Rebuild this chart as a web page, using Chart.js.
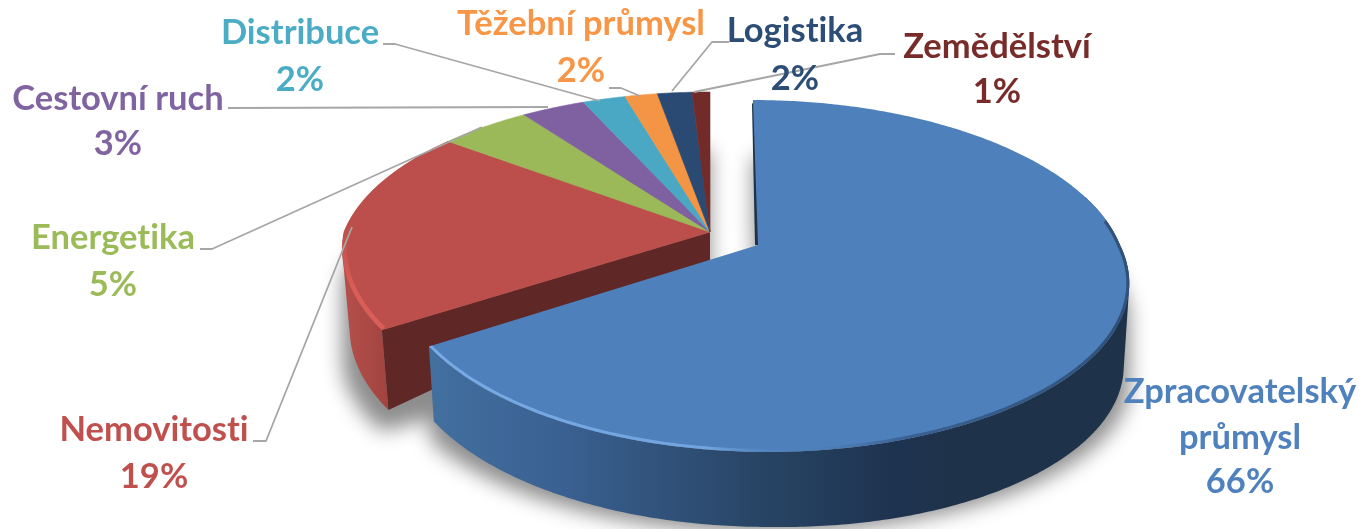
<!DOCTYPE html>
<html><head><meta charset="utf-8">
<style>html,body{margin:0;padding:0;background:#fff}#w{width:1359px;height:529px;position:relative}</style>
<script src="https://cdn.jsdelivr.net/npm/chart.js@4/dist/chart.umd.min.js"></script>
</head><body><div id="w"><canvas id="c"></canvas></div>
<script>
const categories = ["Zpracovatelský průmysl","Nemovitosti","Energetika","Cestovní ruch","Distribuce","Těžební průmysl","Logistika","Zemědělství"];
/* slice sizes; they print rounded as whole percents */
const shares = [65.95,19.49,4.69,3.29,2.2,1.68,1.78,0.92];
const sliceColors = ["#4e80bb","#bc4f4b","#9bb958","#7f60a0","#4aa8c4","#f39545","#2a4a74","#722b29"];
const textColors = ["#4f81bd","#c0504d","#9bbb59","#8064a2","#4bacc6","#f79646","#2c4d75","#772c2a"];

/* layout of the perspective drawing */
const K = 0.176;
const BLUE = {ax:758, ay:245, R:362, b:170.5, s:10, t:5, D:75, kx:.985, dr:8};
const RED  = {ax:710, ay:232, R:366, b:164.6, s:16, t:0, D:80, kx:.98, dr:0};
const labelLayout = [
  {x:1240, lines:["Zpracovatelský","průmysl"], y:[403,449,493]},
  {x:154, lines:["Nemovitosti"], y:[441,488]},
  {x:113, lines:["Energetika"], y:[249,296]},
  {x:118, lines:["Cestovní ruch"], y:[110,155]},
  {x:300, lines:["Distribuce"], y:[44,91]},
  {x:581, lines:["Těžební průmysl"], y:[35,82]},
  {x:795, lines:["Logistika"], y:[42,90]},
  {x:997, lines:["Zemědělství"], y:[58,103]}
];
const leaders = [
  [[228,108],[548,107]],
  [[383,44],[395,44],[600,101]],
  [[609,88],[621,88],[640,96]],
  [[729,42],[712,42],[672,91]],
  [[895,54],[880,54],[694,92]],
  [[200,249],[212,249],[482,127]],
  [[253,441],[266,441],[352,227]]
];

function rimTop(g,th){const X=Math.cos(th),Y=Math.sin(th),w=1-K*Y;
  const sh=Y>=0?g.s*Y*(2-Y):g.t*Y;
  return [g.ax+g.R*X/w+sh, g.ay+g.b*Y/w];}
function rimBot(g,th){const p=rimTop(g,th);return [g.ax+(p[0]-g.ax)*g.kx,p[1]+g.D+g.dr*Math.max(Math.cos(th),0)];}
function arcPts(f,g,a,b){const n=Math.max(4,Math.ceil(Math.abs(b-a)*90)),o=[];
  for(let i=0;i<=n;i++)o.push(f(g,a+(b-a)*i/n));return o;}
function poly(ctx,pts){pts.forEach((p,i)=>i?ctx.lineTo(p[0],p[1]):ctx.moveTo(p[0],p[1]));ctx.closePath();}
function wallPath(ctx,g,a,b){
  const t=arcPts(rimTop,g,a,b), u=arcPts(rimBot,g,a,b);
  for(let i=0;i<t.length-1;i++){
    let q=[t[i],t[i+1],u[i+1],u[i]], area=0;
    q.forEach((p,j)=>{const n=q[(j+1)%4];area+=p[0]*n[1]-n[0]*p[1];});
    if(area<0)q=q.reverse();
    poly(ctx,q);
  }
}

const pie3d = {
  id:'pie3d',
  beforeDatasetsDraw(chart){
    const ctx=chart.ctx, arcs=chart.getDatasetMeta(0).data;
    const redStart=arcs[1].startAngle, redEnd=arcs[arcs.length-1].endAngle;
    const blueA=arcs[0].startAngle, blueB=arcs[0].endAngle;
    ctx.save();
    /* soft drop shadow */
    ctx.save();
    const far=4000, sq=y=>150+(y-92)*0.885;
    ctx.shadowColor='rgba(0,0,0,.45)';ctx.shadowBlur=20;ctx.shadowOffsetX=far;ctx.shadowOffsetY=0;
    ctx.fillStyle='#000';ctx.beginPath();
    [[BLUE,blueA,blueB],[RED,redStart,redEnd]].forEach(([g,a,b])=>{
      const pts=[[g.ax,g.ay]].concat(arcPts(rimTop,g,a,b));
      for(let d=0;d<=g.D;d+=4){
        poly(ctx,pts.map(p=>[p[0]-far,sq(p[1]+d)]));
      }
    });
    ctx.fill();
    ctx.restore();

    /* red group: rim wall and cut face */
    let gr=ctx.createLinearGradient(345,0,400,0);
    gr.addColorStop(0,'#b54f4b');gr.addColorStop(1,'#9c403c');
    ctx.fillStyle=gr;ctx.beginPath();
    wallPath(ctx,RED,arcs[1].startAngle,arcs[1].endAngle);
    ctx.fill();
    ctx.fillStyle='#5f2725';ctx.beginPath();
    poly(ctx,[[RED.ax,RED.ay],[RED.ax,RED.ay+28],rimBot(RED,redStart),rimTop(RED,redStart)]);
    ctx.fill();

    /* red group: top faces */
    for(let i=1;i<arcs.length;i++){
      const a=arcs[i];
      const pts=[[RED.ax,RED.ay]].concat(arcPts(rimTop,RED,a.startAngle,a.endAngle));
      ctx.beginPath();poly(ctx,pts);
      ctx.fillStyle=a.options.backgroundColor;ctx.fill();
      ctx.strokeStyle=a.options.backgroundColor;ctx.lineWidth=.6;ctx.stroke();
    }
    /* red bevel */
    ctx.save();
    ctx.beginPath();poly(ctx,[[RED.ax,RED.ay]].concat(arcPts(rimTop,RED,arcs[1].startAngle,arcs[1].endAngle)));ctx.clip();
    gr=ctx.createLinearGradient(0,225,0,290);
    gr.addColorStop(0,'rgba(218,93,88,0)');gr.addColorStop(1,'rgba(218,93,88,1)');
    ctx.beginPath();arcPts(rimTop,RED,arcs[1].startAngle,Math.PI*1.04).forEach((p,i)=>i?ctx.lineTo(p[0],p[1]):ctx.moveTo(p[0],p[1]));
    ctx.strokeStyle=gr;ctx.lineWidth=9;ctx.stroke();
    ctx.restore();

    /* blue wall */
    gr=ctx.createLinearGradient(428,0,960,0);
    gr.addColorStop(0,'#42709f');gr.addColorStop(.25,'#3a6192');gr.addColorStop(.6,'#294667');gr.addColorStop(.88,'#1e3350');gr.addColorStop(1,'#1e3249');
    ctx.fillStyle=gr;ctx.beginPath();
    wallPath(ctx,BLUE,-0.3,blueB);
    ctx.fill();
    /* blue start-edge sliver */
    ctx.fillStyle='#1e3249';ctx.beginPath();
    const bs=rimTop(BLUE,blueA);
    poly(ctx,[[bs[0]-1,bs[1]+4],[bs[0]+2,bs[1]],[BLUE.ax+1,BLUE.ay],[BLUE.ax-3,BLUE.ay]]);ctx.fill();

    /* blue top */
    const bluePts=[[BLUE.ax,BLUE.ay]].concat(arcPts(rimTop,BLUE,blueA,blueB));
    ctx.beginPath();poly(ctx,bluePts);ctx.fillStyle=arcs[0].options.backgroundColor;ctx.fill();
    ctx.save();
    ctx.beginPath();poly(ctx,bluePts);ctx.clip();
    gr=ctx.createLinearGradient(430,0,1130,0);
    gr.addColorStop(0,'rgba(120,170,230,1)');gr.addColorStop(.4,'rgba(120,170,230,.85)');
    gr.addColorStop(.52,'rgba(78,128,187,0)');gr.addColorStop(.68,'rgba(40,70,110,.55)');gr.addColorStop(1,'rgba(36,60,95,.7)');
    ctx.beginPath();arcPts(rimTop,BLUE,-0.15,blueB).forEach((p,i)=>i?ctx.lineTo(p[0],p[1]):ctx.moveTo(p[0],p[1]));
    ctx.strokeStyle=gr;ctx.lineWidth=6;ctx.stroke();
    ctx.restore();

    /* leader lines */
    ctx.strokeStyle='#a6a6a6';ctx.lineWidth=1.8;ctx.lineJoin='round';
    leaders.forEach(l=>{ctx.beginPath();l.forEach((p,i)=>i?ctx.lineTo(p[0],p[1]):ctx.moveTo(p[0],p[1]));ctx.stroke();});

    /* labels */
    ctx.textAlign='center';ctx.textBaseline='alphabetic';
    ctx.font='700 34.5px Lato, "Open Sans", sans-serif';
    ctx.letterSpacing='0.01px';
    labelLayout.forEach((l,i)=>{
      ctx.fillStyle=textColors[i];
      const rows=l.lines.concat([Math.round(chart.data.datasets[0].data[i])+'%']);
      rows.forEach((t,j)=>ctx.fillText(t,l.x,l.y[j]));
    });
    ctx.restore();
    return false;
  }
};

new Chart(document.getElementById('c'),{
  type:'pie',
  data:{labels:categories,datasets:[{data:shares,backgroundColor:sliceColors,borderWidth:0}]},
  options:{responsive:true,maintainAspectRatio:false,animation:false,
    layout:{padding:0},
    plugins:{legend:{display:false},tooltip:{enabled:false},title:{display:false}}},
  plugins:[pie3d]
});
</script></body></html>
